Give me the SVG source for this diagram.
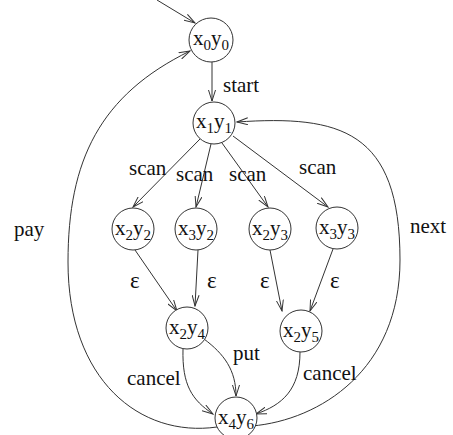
<svg xmlns="http://www.w3.org/2000/svg" width="453" height="435" viewBox="0 0 453 435">
  <style>
    .node circle { fill: #fff; stroke: #333; stroke-width: 1; }
    .node text, .lbl { font-family: "Liberation Serif", "Times New Roman", serif; font-size: 21px; fill: #111; }
    .sub { font-size: 15px; }
    .eps { font-size: 23px; }
    .edge { fill: none; stroke: #333; stroke-width: 1; marker-end: url(#arr); }
  </style>
  <defs>
    <marker id="arr" viewBox="0 0 12 8" refX="11" refY="4" markerWidth="12" markerHeight="8" markerUnits="userSpaceOnUse" orient="auto">
      <path d="M0,0.5 L11,4 L0,7.5" fill="none" stroke="#333" stroke-width="1"/>
    </marker>
  </defs>
  <rect width="453" height="435" fill="#fff"/>

  <g id="edges">
    <path class="edge" d="M157 0 L195 23"/>
    <path class="edge" d="M212 62 L212 101"/>
    <path class="edge" d="M200 139 L133 207"/>
    <path class="edge" d="M211 144 L196 207"/>
    <path class="edge" d="M222 143 L268 207"/>
    <path class="edge" d="M233 136 L328 207"/>
    <path class="edge" d="M135 250 L177 311"/>
    <path class="edge" d="M198 250 L195 306"/>
    <path class="edge" d="M270 250 L282 311"/>
    <path class="edge" d="M333 249 L310 311"/>
    <path class="edge" d="M204 339 C224 354 236 370 236 396"/>
    <path class="edge" d="M183 349 C182 385 192 400 213 414"/>
    <path class="edge" d="M300 352 C300 390 282 405 256 414"/>
    <path class="edge" d="M217 427 C140 438 68 380 68 262 C68 160 100 95 190 51"/>
    <path class="edge" d="M252 426 C320 420 400 370 400 260 C400 130 340 115 237 122"/>
  </g>

  <g id="n00" class="node"><circle cx="211" cy="40" r="22"/><text x="193" y="45">x<tspan class="sub" dy="5">0</tspan><tspan dy="-5">y</tspan><tspan class="sub" dy="5">0</tspan></text></g>
  <g id="n11" class="node"><circle cx="214" cy="123" r="21"/><text x="196" y="128">x<tspan class="sub" dy="5">1</tspan><tspan dy="-5">y</tspan><tspan class="sub" dy="5">1</tspan></text></g>
  <g id="n22" class="node"><circle cx="133" cy="229" r="21"/><text x="115" y="235">x<tspan class="sub" dy="5">2</tspan><tspan dy="-5">y</tspan><tspan class="sub" dy="5">2</tspan></text></g>
  <g id="n32" class="node"><circle cx="196" cy="229" r="21"/><text x="178" y="235">x<tspan class="sub" dy="5">3</tspan><tspan dy="-5">y</tspan><tspan class="sub" dy="5">2</tspan></text></g>
  <g id="n23" class="node"><circle cx="270" cy="229" r="21"/><text x="252" y="235">x<tspan class="sub" dy="5">2</tspan><tspan dy="-5">y</tspan><tspan class="sub" dy="5">3</tspan></text></g>
  <g id="n33" class="node"><circle cx="337" cy="228" r="21"/><text x="319" y="234">x<tspan class="sub" dy="5">3</tspan><tspan dy="-5">y</tspan><tspan class="sub" dy="5">3</tspan></text></g>
  <g id="n24" class="node"><circle cx="187" cy="328" r="21"/><text x="169" y="334">x<tspan class="sub" dy="5">2</tspan><tspan dy="-5">y</tspan><tspan class="sub" dy="5">4</tspan></text></g>
  <g id="n25" class="node"><circle cx="301" cy="331" r="21"/><text x="283" y="337">x<tspan class="sub" dy="5">2</tspan><tspan dy="-5">y</tspan><tspan class="sub" dy="5">5</tspan></text></g>
  <g id="n46" class="node"><circle cx="236" cy="418" r="21"/><text x="218" y="424">x<tspan class="sub" dy="5">4</tspan><tspan dy="-5">y</tspan><tspan class="sub" dy="5">6</tspan></text></g>

  <g id="labels">
    <text class="lbl" x="223" y="92">start</text>
    <text class="lbl" x="129" y="175">scan</text>
    <text class="lbl" x="176" y="181">scan</text>
    <text class="lbl" x="229" y="181">scan</text>
    <text class="lbl" x="299" y="174">scan</text>
    <text class="lbl" x="14" y="236">pay</text>
    <text class="lbl" x="410" y="233">next</text>
    <text class="lbl eps" x="130" y="288">ε</text>
    <text class="lbl eps" x="207" y="288">ε</text>
    <text class="lbl eps" x="260" y="288">ε</text>
    <text class="lbl eps" x="330" y="288">ε</text>
    <text class="lbl" x="233" y="360">put</text>
    <text class="lbl" x="127" y="385">cancel</text>
    <text class="lbl" x="303" y="380">cancel</text>
  </g>
</svg>
